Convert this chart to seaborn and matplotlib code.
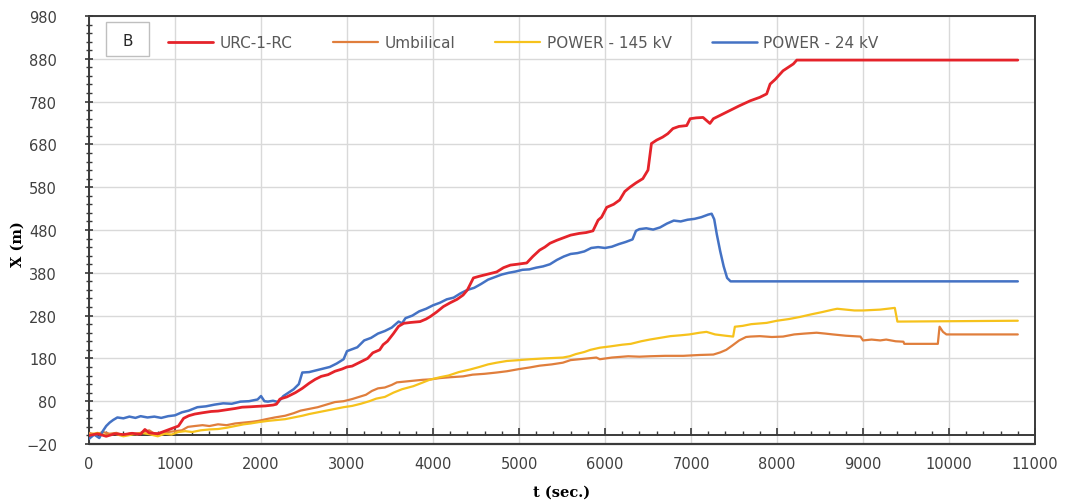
import matplotlib
matplotlib.use("Agg")
import matplotlib.pyplot as plt
from matplotlib.patches import Rectangle
from matplotlib.ticker import MultipleLocator, FixedLocator
import pandas as pd
import seaborn as sns

# Series labels and colours
series_names = ["URC-1-RC", "Umbilical", "POWER - 145 kV", "POWER - 24 kV"]
series_colors = ["#E5232A", "#E07E3C", "#F6C21C", "#4472C4"]

# URC-1-RC: horizontal excursion X (m) against time t (s)
urc_t = [0, 100, 200, 300, 400, 500, 600, 650, 700, 800, 880, 960, 1040, 1100, 1160,
         1230, 1320, 1420, 1500, 1600, 1700, 1780, 1880, 1960, 2050, 2140, 2180, 2220,
         2300, 2400, 2480, 2560, 2630, 2700, 2780, 2860, 2940, 3000, 3060, 3140, 3240,
         3300, 3380, 3420, 3470, 3540, 3600, 3660, 3740, 3850, 3920, 3970, 4040, 4120,
         4200, 4280, 4350, 4400, 4470, 4540, 4620, 4700, 4740, 4820, 4900, 4980, 5090,
         5160, 5240, 5300, 5360, 5440, 5520, 5600, 5700, 5780, 5860, 5920, 5960, 6020,
         6100, 6170, 6230, 6290, 6360, 6440, 6500, 6540, 6600, 6670, 6730, 6790, 6860,
         6950, 6990, 7060, 7140, 7180, 7220, 7260, 7340, 7450, 7560, 7690, 7800, 7880,
         7920, 7980, 8070, 8130, 8190, 8230, 10800]
urc_x = [0, 4, -2, 4, 2, 5, 3, 14, 6, 4, 10, 16, 22, 40, 46,
         50, 53, 56, 57, 60, 63, 66, 67, 68, 69, 71, 73, 85,
         90, 100, 110, 122, 131, 138, 142, 150, 155, 160, 162, 170, 180,
         193, 200, 212, 220, 238, 255, 262, 264, 266, 272, 278, 288, 301,
         310, 318, 328, 340, 368, 372, 376, 380, 382, 392, 398, 400, 403,
         418, 433, 440, 449, 456, 462, 468, 472, 474, 478, 503, 510, 533,
         540, 550, 570, 580, 590, 600, 620, 682, 690, 697, 705, 717, 722,
         724, 740, 742, 743, 736, 729, 740, 748, 759, 770, 782, 790, 798,
         821, 832, 852, 860, 868, 877, 877]

# Umbilical
umb_t = [0, 80, 160, 240, 320, 400, 480, 560, 640, 700, 760, 840, 920, 1000, 1080,
         1150, 1230, 1320, 1400, 1500, 1600, 1700, 1800, 1900, 1970, 2060, 2160, 2280,
         2380, 2460, 2560, 2660, 2760, 2860, 2960, 3060, 3140, 3220, 3290, 3360, 3440,
         3520, 3580, 3680, 3780, 3880, 3970, 4080, 4200, 4350, 4460, 4600, 4740, 4860,
         5000, 5130, 5240, 5380, 5510, 5600, 5700, 5800, 5900, 5940, 6080, 6270, 6400,
         6520, 6700, 6910, 7100, 7260, 7340, 7410, 7480, 7560, 7640, 7690, 7800, 7940,
         8070, 8200, 8320, 8460, 8560, 8650, 8800, 8970, 9000, 9100, 9200, 9270, 9380,
         9470, 9480, 9870, 9890, 9930, 9970, 10800]
umb_x = [6, 2, 8, 4, 6, 0, 5, 2, 8, 12, 4, 6, 8, 10, 12,
         20, 22, 24, 22, 26, 24, 28, 30, 32, 34, 38, 42, 46,
         52, 58, 62, 66, 72, 78, 80, 85, 90, 95, 104, 110, 112,
         118, 124, 126, 128, 130, 131, 134, 136, 138, 142, 144, 147, 150,
         155, 159, 163, 166, 170, 176, 178, 180, 182, 178, 182, 185, 184,
         185, 186, 186, 188, 189, 194, 200, 210, 222, 230, 231, 232, 230,
         231, 236, 238, 240, 238, 236, 233, 231, 222, 224, 222, 224, 220,
         219, 214, 214, 254, 242, 236, 236]

# POWER - 145 kV
p145_t = [0, 100, 200, 300, 400, 500, 600, 700, 800, 880, 960, 1040, 1120, 1200, 1300,
          1400, 1500, 1600, 1700, 1800, 1880, 1970, 2080, 2180, 2280, 2380, 2480, 2560,
          2660, 2760, 2860, 2960, 3060, 3160, 3260, 3340, 3440, 3540, 3640, 3770, 3860,
          3960, 4080, 4180, 4300, 4430, 4540, 4640, 4740, 4860, 5000, 5130, 5300, 5510,
          5590, 5660, 5760, 5830, 5940, 6060, 6200, 6300, 6420, 6520, 6640, 6760, 6880,
          6980, 7100, 7180, 7280, 7400, 7490, 7510, 7600, 7700, 7880, 8000, 8140, 8270,
          8400, 8520, 8650, 8700, 8800, 8900, 9000, 9200, 9370, 9400, 10800]
p145_x = [2, 6, 0, 4, -2, 2, 6, 3, -2, 4, 2, 8, 10, 8, 12,
          14, 15, 18, 22, 26, 28, 31, 34, 36, 38, 42, 46, 50,
          54, 58, 62, 66, 69, 74, 80, 86, 90, 100, 108, 115, 122,
          130, 136, 140, 148, 154, 160, 166, 170, 174, 176, 178, 180, 182,
          185, 190, 195, 200, 205, 208, 212, 214, 220, 224, 228, 232, 234,
          236, 240, 242, 236, 233, 231, 254, 256, 260, 263, 268, 272, 277,
          283, 288, 294, 296, 294, 292, 292, 294, 298, 266, 268]

# POWER - 24 kV
p24_t = [0, 60, 120, 160, 200, 240, 280, 330, 400, 470, 540, 600, 680, 760, 840,
         920, 1000, 1080, 1160, 1260, 1360, 1460, 1560, 1660, 1760, 1860, 1960, 2000,
         2040, 2080, 2140, 2200, 2260, 2320, 2380, 2440, 2480, 2560, 2640, 2720, 2800,
         2880, 2960, 3000, 3040, 3120, 3160, 3200, 3280, 3360, 3440, 3520, 3600, 3640,
         3680, 3760, 3840, 3920, 4000, 4080, 4160, 4240, 4320, 4400, 4480, 4560, 4640,
         4720, 4800, 4880, 4960, 5040, 5120, 5200, 5280, 5360, 5440, 5520, 5600, 5680,
         5760, 5840, 5920, 6000, 6080, 6160, 6240, 6320, 6360, 6400, 6480, 6560, 6640,
         6720, 6800, 6880, 6960, 7040, 7120, 7200, 7240, 7270, 7300, 7340, 7380, 7420,
         7460, 10800]
p24_x = [-8, 2, -6, 10, 22, 30, 36, 42, 40, 44, 41, 45, 42, 44, 41,
         45, 47, 54, 58, 66, 68, 72, 75, 74, 79, 80, 84, 92,
         80, 79, 81, 78, 92, 100, 108, 120, 147, 148, 152, 156, 160,
         168, 178, 197, 200, 206, 214, 222, 228, 238, 244, 252, 266, 262,
         274, 280, 290, 296, 304, 310, 318, 322, 332, 340, 345, 354, 364,
         370, 376, 380, 383, 387, 388, 392, 395, 400, 410, 418, 424, 426,
         430, 438, 440, 438, 441, 447, 452, 458, 478, 482, 484, 481, 486,
         495, 502, 500, 504, 506, 510, 516, 518, 505, 470, 430, 395, 368,
         360, 360]

# Axis ticks
x_ticks = list(range(0, 11001, 1000))
y_ticks = list(range(-20, 981, 100))

sns.set_theme(style="white")
plt.rcParams["font.family"] = ["DejaVu Sans"]

W, H = 1065, 502
fig = plt.figure(figsize=(W / 100, H / 100), dpi=100)
ax = fig.add_axes([89 / W, 1 - 445 / H, (1035 - 89) / W, (445 - 17) / H])

frames = []
for name, t, x in [(series_names[0], urc_t, urc_x), (series_names[1], umb_t, umb_x),
                   (series_names[2], p145_t, p145_x), (series_names[3], p24_t, p24_x)]:
    frames.append(pd.DataFrame({"t": t, "X": x, "series": name}))
df = pd.concat(frames, ignore_index=True)

widths = [2.0, 1.6, 1.6, 1.8]
zorders = [5, 3, 4, 4.5]
for name, color, lw, z in zip(series_names, series_colors, widths, zorders):
    sns.lineplot(data=df[df["series"] == name], x="t", y="X", color=color,
                 linewidth=lw, sort=False, estimator=None, ax=ax, label=name,
                 zorder=z)

ax.set_xlim(0, 11000)
ax.set_ylim(-20, 980)
ax.xaxis.set_major_locator(FixedLocator(x_ticks))
ax.yaxis.set_major_locator(FixedLocator(y_ticks))
ax.xaxis.set_minor_locator(MultipleLocator(200))
ax.yaxis.set_minor_locator(MultipleLocator(20))

ax.grid(True, which="major", color="#D9D9D9", linewidth=1.0)
ax.set_axisbelow(True)

frame_color = "#3A3A3A"
for side in ["left", "right", "top", "bottom"]:
    ax.spines[side].set_visible(True)
    ax.spines[side].set_color(frame_color)
    ax.spines[side].set_linewidth(1.4)
# horizontal axis crosses at X = 0; plot-area border closes the box below it
ax.spines["bottom"].set_position(("data", 0))
ax.axhline(-20, color=frame_color, linewidth=1.6, clip_on=False, zorder=6)

ax.tick_params(axis="x", which="major", direction="in", length=5, width=1.2,
               color=frame_color, pad=15, labelsize=10.5, labelcolor="#404040")
ax.tick_params(axis="x", which="minor", direction="in", length=3, width=1.0,
               color=frame_color)
ax.tick_params(axis="y", which="major", direction="inout", length=6, width=1.2,
               color=frame_color, pad=20, labelsize=10.5, labelcolor="#404040")
ax.tick_params(axis="y", which="minor", direction="inout", length=4, width=1.0,
               color=frame_color)
ax.tick_params(bottom=True, left=True, which="both")

ax.set_xlabel("t (sec.)", family=["DejaVu Serif"], fontweight="bold",
              fontsize=10.5, color="black")
ax.set_ylabel("X (m)", family=["DejaVu Serif"], fontweight="bold",
              fontsize=10.5, color="black")
ax.xaxis.set_label_coords(0.5, -0.095)
ax.yaxis.set_label_coords(-0.068, 0.47)

# Panel tag
fig.patches.append(Rectangle((106 / W, 1 - 57 / H), 43 / W, 34 / H,
                             transform=fig.transFigure, facecolor="white",
                             edgecolor="#BFBFBF", linewidth=1.0, zorder=10))
fig.text(128 / W, 1 - 41 / H, "B", ha="center", va="center", fontsize=11,
         color="#262626", zorder=11)

handles, labels = ax.get_legend_handles_labels()
order = [labels.index(n) for n in series_names]
ax.legend([handles[i] for i in order], [labels[i] for i in order],
          loc="center left", bbox_to_anchor=(168 / W, 1 - 44 / H),
          bbox_transform=fig.transFigure, ncol=4, frameon=False,
          handlelength=2.95, handletextpad=0.45, columnspacing=2.6,
          borderpad=0, borderaxespad=0, fontsize=11, labelcolor="#595959")

fig.savefig("out.png", dpi=100)
